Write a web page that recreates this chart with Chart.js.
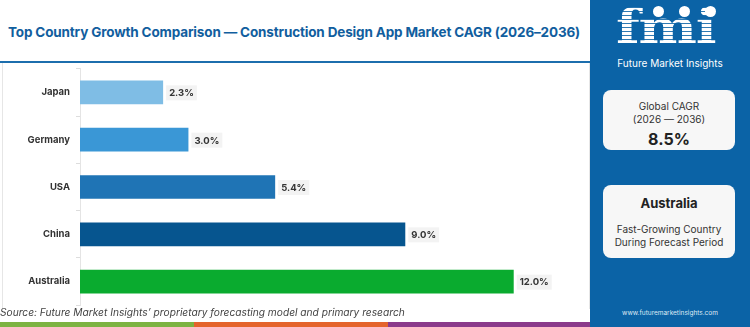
<!DOCTYPE html>
<html>
<head>
<meta charset="utf-8">
<script src="https://cdn.jsdelivr.net/npm/chart.js@4"></script>
<style>
  html, body { margin: 0; padding: 0; }
  body { width: 750px; height: 327px; position: relative; overflow: hidden; background: #fff; font-family: "Inter", "Noto Sans", sans-serif; }
  .title { position: absolute; left: 8px; top: 24px; font-size: 13.5px; font-weight: 700; color: #115e9e; white-space: nowrap; letter-spacing: -0.15px; }
  .rule { position: absolute; left: 0; top: 61px; width: 590px; height: 2px; background: #1c6ead; }
  .frame { position: absolute; left: 2px; top: 63px; width: 586px; height: 246px; border-left: 1px solid #e6e6e6; border-right: 1px solid #e6e6e6; }
  #cagr-chart { position: absolute; left: 0; top: 57px; }
  .source { position: absolute; left: 0; top: 306px; font-size: 10.2px; font-style: italic; color: #444; white-space: nowrap; }
  .stripe { position: absolute; top: 322px; height: 5px; }
  .side { position: absolute; left: 590px; top: 0; width: 160px; height: 327px; background: #0b63a6; }
  .logo { position: absolute; left: 26px; top: 4px; line-height: 1; font-family: "DejaVu Serif", serif; font-weight: 700; font-size: 46px; letter-spacing: -1px;
    transform: scaleX(1.2); transform-origin: left top;
    background: repeating-linear-gradient(#fff 0 3px, rgba(255,255,255,0.15) 3px 4px); -webkit-background-clip: text; background-clip: text; color: transparent; }
  .dot { position: absolute; width: 11px; height: 11px; border-radius: 50%; background: #fff; top: 6px; }
  .brand { position: absolute; left: 0; width: 160px; top: 57px; text-align: center; color: #fff; font-size: 10px; }
  .card { position: absolute; left: 13px; width: 132px; background: #f7f7f7; border-radius: 8px; text-align: center; color: #333; }
  .card .small { font-size: 10px; line-height: 13px; }
  .card .big { font-size: 16px; font-weight: 700; color: #222; margin-top: 3px; }
  .card .name { font-size: 13px; font-weight: 700; color: #222; margin-bottom: 12px; }
  .web { position: absolute; left: 0; width: 160px; top: 309px; text-align: center; color: #dfeaf5; font-size: 6.5px; }
</style>
</head>
<body>
<div class="title">Top Country Growth Comparison — Construction Design App Market CAGR (2026–2036)</div>
<div class="rule"></div>
<div class="frame"></div>
<canvas id="cagr-chart" width="590" height="260"></canvas>
<div class="source">Source: Future Market Insights’ proprietary forecasting model and primary research</div>
<div class="stripe" style="left:0;width:194px;background:#7cb342"></div>
<div class="stripe" style="left:194px;width:194px;background:#e4642c"></div>
<div class="stripe" style="left:388px;width:202px;background:#8b3a8b"></div>
<div class="side">
  <div class="logo">fmi</div>
  <div class="dot" style="left:63px"></div>
  <div class="dot" style="left:89px"></div>
  <div class="dot" style="left:115px"></div>
  <div class="brand">Future Market Insights</div>
  <div class="card" style="top:90px;height:60px;">
    <div class="small" style="margin-top:10px">Global CAGR</div>
    <div class="small">(2026 — 2036)</div>
    <div class="big">8.5%</div>
  </div>
  <div class="card" style="top:185px;height:73px;">
    <div class="name" style="margin-top:10px">Australia</div>
    <div class="small">Fast-Growing Country</div>
    <div class="small">During Forecast Period</div>
  </div>
  <div class="web">www.futuremarketinsights.com</div>
</div>
<script>
const categories = ["Japan", "Germany", "USA", "China", "Australia"];
const cagrValues = [2.3, 3.0, 5.4, 9.0, 12.0];
const barColors = ["#7fbde5", "#3a97d6", "#1f74b5", "#06558f", "#0aab2f"];
const axisMax = 14;

const labelFont = "Inter, 'Noto Sans', sans-serif";

// value labels with a light grey box after each bar
const valueLabels = {
  id: "valueLabels",
  afterDatasetsDraw(chart) {
    const ctx = chart.ctx;
    const meta = chart.getDatasetMeta(0);
    ctx.save();
    ctx.font = "bold 9.5px " + labelFont;
    ctx.textBaseline = "middle";
    meta.data.forEach((bar, i) => {
      const text = cagrValues[i].toFixed(1) + "%";
      const w = ctx.measureText(text).width;
      const x = bar.x + 3;
      ctx.fillStyle = "#f3f3f3";
      ctx.fillRect(x, bar.y - 7, w + 6, 15);
      ctx.fillStyle = "#333";
      ctx.fillText(text, x + 3, bar.y + 1);
    });
    ctx.restore();
  }
};

new Chart(document.getElementById("cagr-chart"), {
  type: "bar",
  data: {
    labels: categories,
    datasets: [{
      data: cagrValues,
      backgroundColor: barColors,
      borderWidth: 0,
      categoryPercentage: 1,
      barPercentage: 0.5
    }]
  },
  options: {
    indexAxis: "y",
    responsive: false,
    animation: false,
    layout: { padding: { top: 8, bottom: 4, right: 4, left: 0 } },
    plugins: { legend: { display: false }, tooltip: { enabled: false } },
    scales: {
      x: { display: false, min: 0, max: axisMax },
      y: {
        afterFit: (scale) => { scale.width = 80; },
        ticks: { color: "#333", font: { family: labelFont, size: 9.5, weight: "bold" }, padding: 6 },
        grid: { drawOnChartArea: false, tickLength: 4, color: "#dddddd" },
        border: { color: "#e4e4e4" }
      }
    }
  },
  plugins: [valueLabels]
});
</script>
</body>
</html>
